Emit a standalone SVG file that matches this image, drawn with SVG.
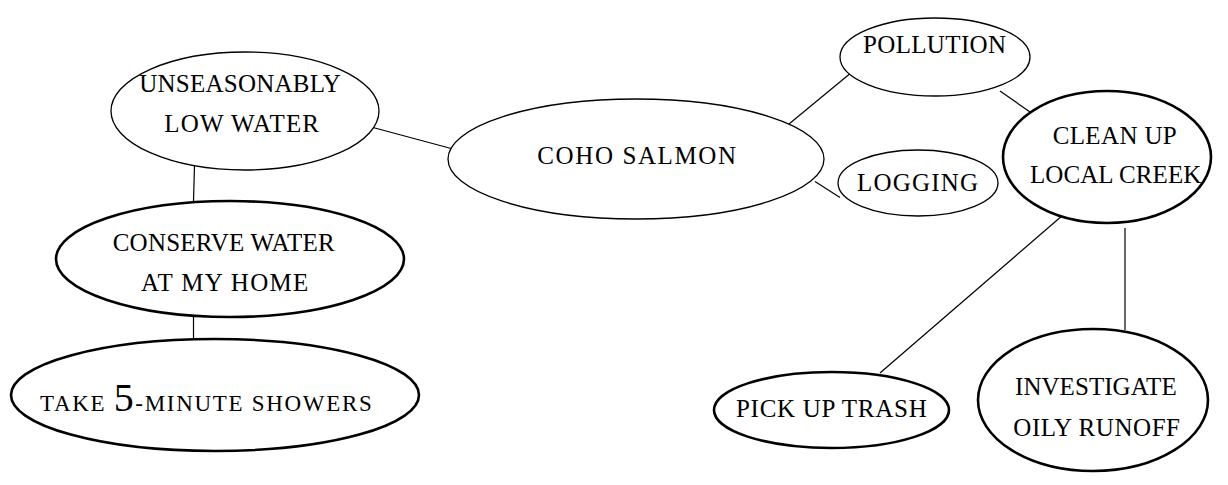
<svg xmlns="http://www.w3.org/2000/svg" width="1228" height="485" viewBox="0 0 1228 485">
<style>
.thin{fill:#fff;stroke:#000;stroke-width:1.3}
.thick{fill:#fff;stroke:#000;stroke-width:2.6}
.lbl{font-family:"Liberation Serif","Times New Roman",serif;font-size:25px;fill:#000}
.conn line{stroke:#000;stroke-width:1.2}
</style>
<rect width="1228" height="485" fill="#fff"/>
<g id="connectors" class="conn">
<line x1="373" y1="127.5" x2="453" y2="149"/>
<line x1="194.5" y1="165" x2="193.5" y2="201"/>
<line x1="193.5" y1="311" x2="193.5" y2="340"/>
<line x1="789" y1="124" x2="852" y2="72"/>
<line x1="1000" y1="91" x2="1030" y2="112"/>
<line x1="815" y1="181.5" x2="840" y2="197.5"/>
<line x1="1063" y1="215" x2="880" y2="373"/>
<line x1="1125" y1="228" x2="1125" y2="330"/>
</g>
<g id="n-unseasonably">
<ellipse class="thin" cx="245" cy="111" rx="134" ry="59"/>
<text class="lbl" x="139.3" y="92" textLength="201.4">UNSEASONABLY</text>
<text class="lbl" x="164.3" y="132" textLength="154.7">LOW WATER</text>
</g>
<g id="n-coho">
<ellipse class="thin" cx="636" cy="159" rx="188" ry="60"/>
<text class="lbl" x="537.3" y="164" textLength="198.7">COHO SALMON</text>
</g>
<g id="n-pollution">
<ellipse class="thin" cx="935" cy="57" rx="95" ry="39"/>
<text class="lbl" x="863" y="53" textLength="143">POLLUTION</text>
</g>
<g id="n-logging">
<ellipse class="thin" cx="918" cy="183" rx="80" ry="33"/>
<text class="lbl" x="857" y="191" textLength="121">LOGGING</text>
</g>
<g id="n-cleanup">
<ellipse class="thick" cx="1107" cy="157" rx="104" ry="66"/>
<text class="lbl" x="1052.7" y="144" textLength="124">CLEAN UP</text>
<text class="lbl" x="1030" y="183.3" textLength="171.3">LOCAL CREEK</text>
</g>
<g id="n-conserve">
<ellipse class="thick" cx="230" cy="259" rx="174" ry="58"/>
<text class="lbl" x="112.7" y="250.7" textLength="222">CONSERVE WATER</text>
<text class="lbl" x="141" y="290.7" textLength="167.3">AT MY HOME</text>
</g>
<g id="n-showers">
<ellipse class="thick" cx="215" cy="395" rx="204" ry="56"/>
<text class="lbl" x="40" y="411" textLength="331.7" style="font-size:23px">TAKE <tspan style="font-size:40px">5</tspan>-MINUTE SHOWERS</text>
</g>
<g id="n-trash">
<ellipse class="thick" cx="831.5" cy="410" rx="117.5" ry="38"/>
<text class="lbl" x="736" y="417.3" textLength="190.7">PICK UP TRASH</text>
</g>
<g id="n-runoff">
<ellipse class="thick" cx="1093" cy="400" rx="115" ry="71"/>
<text class="lbl" x="1015" y="395" textLength="161.7">INVESTIGATE</text>
<text class="lbl" x="1013.3" y="436" textLength="166.7">OILY RUNOFF</text>
</g>
</svg>
